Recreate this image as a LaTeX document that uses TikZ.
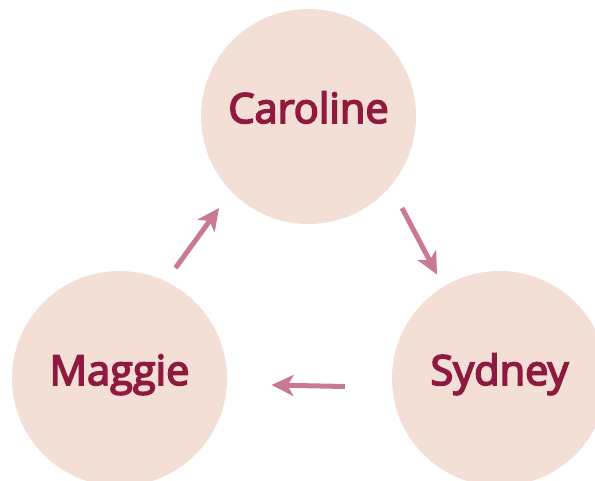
\documentclass[tikz,border=0pt]{standalone}
\usepackage{fontspec}
\setmainfont{Open Sans}
\newfontfamily\namefont{Open Sans}[FakeBold=4]
\usetikzlibrary{arrows.meta,calc}
\definecolor{circfill}{HTML}{F3DFD5}
\definecolor{nametext}{HTML}{8E1A40}
\definecolor{arrcol}{HTML}{C97A90}
\tikzset{
  person/.style={circle,fill=circfill,draw=none,minimum size=215pt,inner sep=0pt,
    text=nametext,font=\namefont\fontsize{41.5}{48}\selectfont,text height=20pt,text depth=7pt},
  flow/.style={draw=arrcol,line width=5pt,-{Stealth[length=22pt,width=21pt,inset=6pt]}}
}
\begin{document}
\begin{tikzpicture}[x=1pt,y=-1pt]
\useasboundingbox (0,0) rectangle (595,481);
\node[person] (Caroline) at (308.5,116.5) {Caroline};
\node[person] (Sydney) at (499.5,378.5) {Sydney};
\node[person] (Maggie) at (119.5,378.5) {Maggie};
\draw[flow] ($(Caroline.center)+(93.5,91.5)$) -- ($(Sydney.center)+(-62.5,-104)$);
\draw[flow] ($(Sydney.center)+(-154.5,8)$) -- ($(Maggie.center)+(152,6.5)$);
\draw[flow] ($(Maggie.center)+(56,-110.5)$) -- ($(Caroline.center)+(-89.5,91.5)$);
\end{tikzpicture}
\end{document}
